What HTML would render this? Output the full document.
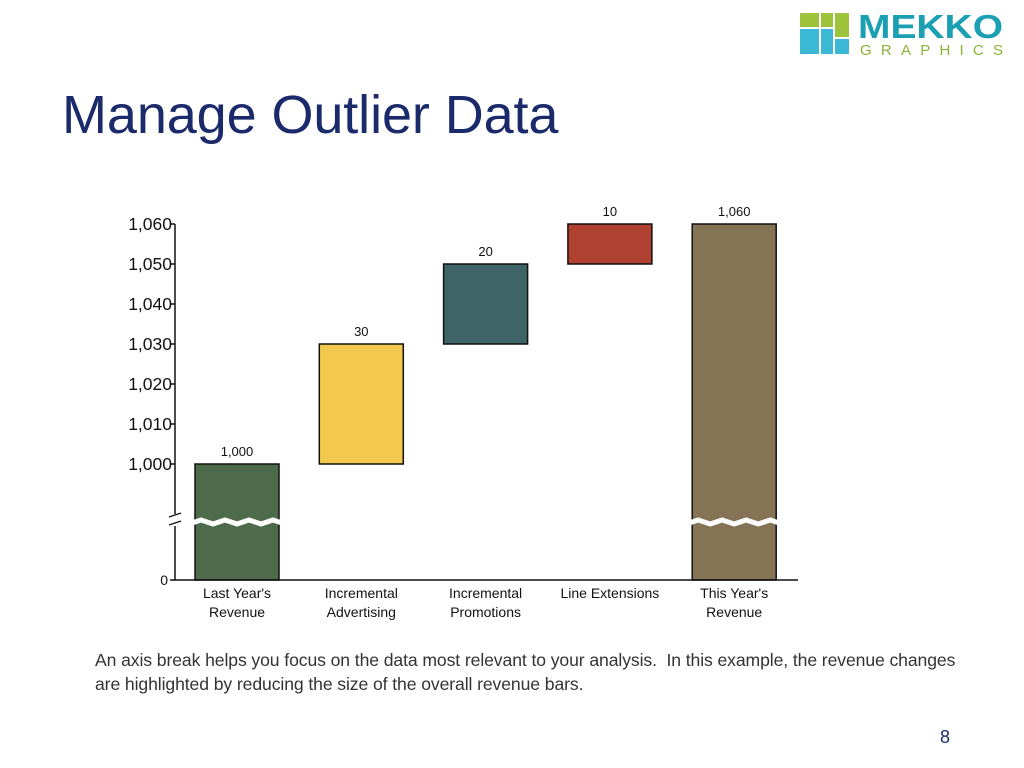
<!DOCTYPE html>
<html><head><meta charset="utf-8"><style>
body{margin:0;width:1024px;height:768px;background:#fff;position:relative;overflow:hidden;font-family:"Liberation Sans",sans-serif}
.title{position:absolute;left:62px;top:84px;font-size:54px;color:#1b2a6b;letter-spacing:-0.1px;white-space:nowrap}
.caption{position:absolute;left:95px;top:648px;font-size:17.6px;color:#333;line-height:24px;width:940px;white-space:nowrap;letter-spacing:-0.1px}
.pg{position:absolute;left:940px;top:727px;font-size:18px;color:#1b2a6b}
</style></head><body>
<div class="title">Manage Outlier Data</div>
<svg style="position:absolute;left:800px;top:10px" width="210" height="50">
<rect x="0" y="3" width="19" height="14" fill="#9dc33b"/><rect x="21" y="3" width="12" height="14" fill="#9dc33b"/><rect x="35" y="3" width="14" height="24" fill="#9dc33b"/>
<rect x="0" y="19" width="19" height="25" fill="#3bb8d3"/><rect x="21" y="19" width="12" height="25" fill="#3bb8d3"/><rect x="35" y="29" width="14" height="15" fill="#3bb8d3"/>
<text x="58" y="28" font-size="33" font-weight="bold" fill="#1a9fb3" font-family="Liberation Sans" textLength="145" lengthAdjust="spacingAndGlyphs">MEKKO</text>
<text x="60" y="45" font-size="15" fill="#8ab33a" font-family="Liberation Sans" textLength="143" lengthAdjust="spacing">GRAPHICS</text>
</svg>
<svg id="chart" width="1024" height="768" style="position:absolute;left:0;top:0"></svg>
<div class="caption">An axis break helps you focus on the data most relevant to your analysis.&nbsp; In this example, the revenue changes<br>are highlighted by reducing the size of the overall revenue bars.</div>
<div class="pg">8</div>
<script>
const categories=["Last Year's|Revenue","Incremental|Advertising","Incremental|Promotions","Line Extensions","This Year's|Revenue"];
const values=[1000,30,20,10,1060];
const types=["total","delta","delta","delta","total"];
const colors=["#4d6b4b","#f2c94c","#3f6467","#b0402f","#857356"];
const valueLabels=["1,000","30","20","10","1,060"];
const ticks=[1000,1010,1020,1030,1040,1050,1060];
const tickLabels=["1,000","1,010","1,020","1,030","1,040","1,050","1,060"];
const NS="http://www.w3.org/2000/svg",svg=document.getElementById('chart');
const axX=175,y0=580,breakY=520;
function y(v){return v<=0?y0:464-(v-1000)*4;}
function x(i){return 237+i*124.3;}
function el(t,a){const e=document.createElementNS(NS,t);for(const k in a)e.setAttribute(k,a[k]);svg.appendChild(e);return e;}
let cum=0;
values.forEach((v,i)=>{
 let lo,hi;
 if(types[i]==="total"){lo=0;hi=v;cum=v;}else{lo=cum;hi=cum+v;cum=hi;}
 const r=el('rect',{x:x(i)-42,y:y(hi),width:84,height:y(lo)-y(hi),fill:colors[i],stroke:'#111','stroke-width':1.5});
 
 
 if(lo===0){
  const p=el('path',{d:`M${x(i)-48} ${breakY+4} l12 -4 l12 4 l12 -4 l12 4 l12 -4 l12 4 l12 -4 l12 4`,fill:'none',stroke:'#fff','stroke-width':5});
  
  
 }
 const t=el('text',{x:x(i),y:y(hi)-8,'font-size':13,'text-anchor':'middle',fill:'#111'});
 t.textContent=valueLabels[i];
 
 
 categories[i].split('|').forEach((s,j)=>{
  const c=el('text',{x:x(i),y:598+j*19,'font-size':14,'text-anchor':'middle',fill:'#111'});
  c.textContent=s;
  
  
 });
});
const ax=el('path',{d:`M${axX} 224 V${breakY-6} M${axX} ${breakY+6} V${y0} H798`,stroke:'#111','stroke-width':1.5,fill:'none'});


const bk=el('path',{d:`M${axX-6} ${breakY-3} l12 -4 M${axX-6} ${breakY+5} l12 -4`,stroke:'#111','stroke-width':1.2});


ticks.forEach((v,i)=>{
 el('line',{x1:axX-5,x2:axX,y1:y(v),y2:y(v),stroke:'#111','stroke-width':1.5});
 const t=el('text',{x:axX-3,y:y(v)+6,'font-size':17.5,'text-anchor':'end',fill:'#111'});
 t.textContent=tickLabels[i];
 
 
});
el('line',{x1:axX-5,x2:axX,y1:y0,y2:y0,stroke:'#111','stroke-width':1.5});
const z=el('text',{x:axX-7,y:y0+5,'font-size':14,'text-anchor':'end',fill:'#111'});z.textContent='0';


</script>
</body></html>
